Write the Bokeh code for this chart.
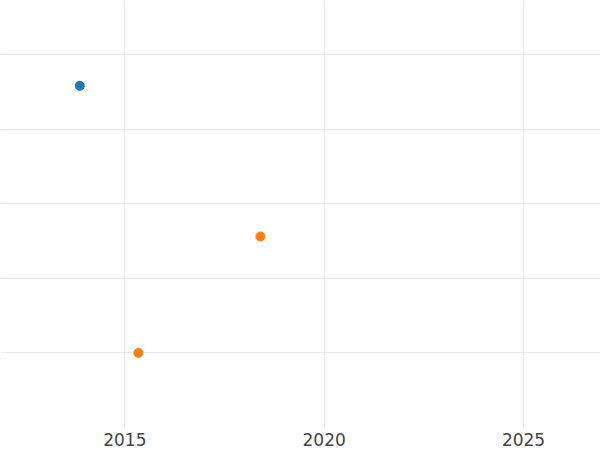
from bokeh.plotting import figure
from bokeh.models import FixedTicker, ColumnDataSource
from bokeh.embed import file_html
from bokeh.resources import INLINE

# data
years = [2013.87, 2018.40, 2015.34]
values = [4.58, 2.56, 1.00]
colors = ["#1f77b4", "#ff7f0e", "#ff7f0e"]
x_ticks = [2015, 2020, 2025]
y_ticks = [1, 2, 3, 4, 5]

src = ColumnDataSource(dict(x=years, y=values, c=colors))

p = figure(frame_width=600, frame_height=427, output_backend="svg", toolbar_location=None,
           x_range=(2011.882, 2026.93), y_range=(0, 5.724), min_border=0,
           background_fill_color="white", border_fill_color="white")
p.outline_line_color = None

p.scatter("x", "y", source=src, size=9, color="c", line_color="c")

p.xaxis.ticker = FixedTicker(ticks=x_ticks)
p.yaxis.ticker = FixedTicker(ticks=y_ticks)
p.yaxis.visible = False
p.xaxis.axis_line_color = None
p.xaxis.major_tick_line_color = None
p.xaxis.minor_tick_line_color = None
p.xaxis.major_label_standoff = -1
p.xaxis.major_label_text_font = "DejaVu Sans"
p.xaxis.major_label_text_font_size = "17px"
p.xaxis.major_label_text_color = "#444444"

p.xgrid.ticker = FixedTicker(ticks=x_ticks)
p.ygrid.ticker = FixedTicker(ticks=y_ticks)
p.xgrid.grid_line_color = "#e8e8e8"
p.ygrid.grid_line_color = "#e8e8e8"
p.xgrid.grid_line_width = 1
p.ygrid.grid_line_width = 1

open("out.html", "w").write(file_html(p, INLINE))
